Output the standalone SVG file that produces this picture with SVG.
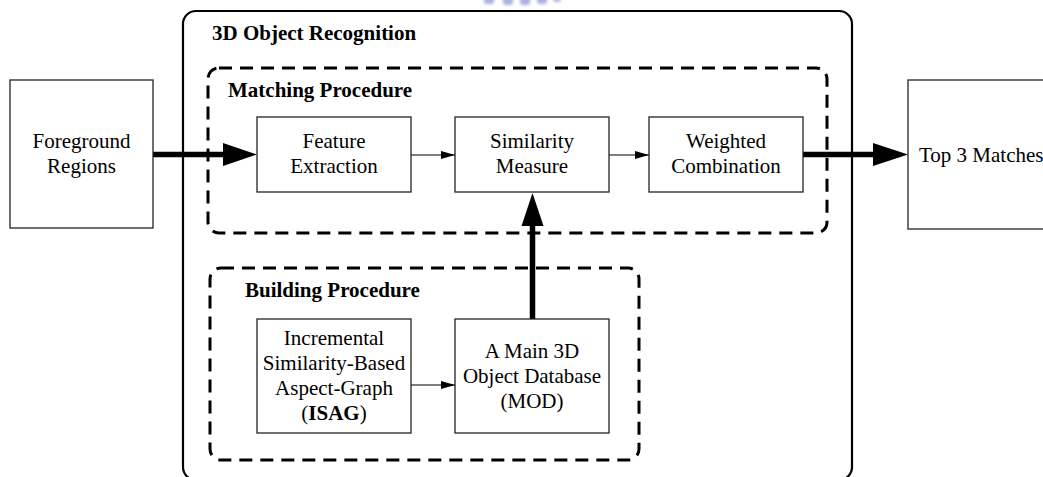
<svg xmlns="http://www.w3.org/2000/svg" width="1043" height="477" viewBox="0 0 1043 477">
  <defs>
    <style>
      .box { fill: #fff; stroke: #222; stroke-width: 1.3; }
      .frame { fill: none; stroke: #000; stroke-width: 2.2; }
      .group { fill: none; stroke: #000; stroke-width: 3; stroke-dasharray: 13 8; }
      .t { font-family: "Liberation Serif", "Times New Roman", serif; font-size: 21px; fill: #000; text-anchor: middle; }
      .title { font-family: "Liberation Serif", "Times New Roman", serif; font-size: 21px; font-weight: bold; fill: #000; }
      .thin { stroke: #000; stroke-width: 1.2; fill: none; }
      .thick { stroke: #000; stroke-width: 5.5; fill: none; }
    </style>
    <marker id="small" markerUnits="userSpaceOnUse" markerWidth="14" markerHeight="10" refX="14" refY="5" orient="auto">
      <path d="M0,1 L14,5 L0,9 Z" fill="#000"/>
    </marker>
    <filter id="soft" x="-20%" y="-50%" width="140%" height="200%">
      <feGaussianBlur stdDeviation="1.5"/>
    </filter>
  </defs>

  <rect width="1043" height="477" fill="#fff"/>

  <!-- faint bluish mark at the top edge -->
  <g fill="#8f97d6" opacity="0.75" filter="url(#soft)">
    <rect x="484" y="-4" width="10" height="8" rx="3"/>
    <rect x="503" y="-4" width="10" height="9" rx="3"/>
    <rect x="520" y="-4" width="10" height="9" rx="3"/>
    <rect x="537" y="-4" width="10" height="8" rx="3"/>
    <rect x="553" y="-4" width="8" height="6" rx="3"/>
  </g>

  <!-- outer frame and procedure groups -->
  <g id="recognition">
    <rect class="frame" x="183" y="11" width="669" height="469" rx="13"/>
    <text class="title" x="212" y="40">3D Object Recognition</text>
  </g>
  <g id="matching">
    <rect class="group" x="208" y="68" width="619" height="165" rx="11"/>
    <text class="title" x="228" y="97">Matching Procedure</text>
  </g>
  <g id="building">
    <rect class="group" x="210" y="268" width="429" height="192" rx="11"/>
    <text class="title" x="245" y="297">Building Procedure</text>
  </g>

  <!-- connectors -->
  <g id="connectors">
    <line class="thick" x1="153" y1="154.5" x2="226" y2="154.5"/>
    <polygon points="223,143 257,154.5 223,166" fill="#000"/>
    <line class="thin" x1="411" y1="155" x2="455" y2="155" marker-end="url(#small)"/>
    <line class="thin" x1="609" y1="155" x2="649" y2="155" marker-end="url(#small)"/>
    <line class="thick" x1="803" y1="154.5" x2="876" y2="154.5"/>
    <polygon points="873,143 908,154.5 873,166" fill="#000"/>
    <line class="thick" x1="532.5" y1="319" x2="532.5" y2="222"/>
    <polygon points="521.5,226 532.5,193 543.5,226" fill="#000"/>
    <line class="thin" x1="411" y1="385" x2="455" y2="385" marker-end="url(#small)"/>
  </g>

  <!-- nodes -->
  <g id="foreground">
    <rect class="box" x="10" y="80" width="143" height="148"/>
    <text class="t" x="81.5" y="148">Foreground</text>
    <text class="t" x="81.5" y="173">Regions</text>
  </g>
  <g id="feature-extraction">
    <rect class="box" x="257" y="117" width="154" height="75"/>
    <text class="t" x="334" y="148">Feature</text>
    <text class="t" x="334" y="173">Extraction</text>
  </g>
  <g id="similarity-measure">
    <rect class="box" x="455" y="117" width="154" height="75"/>
    <text class="t" x="532" y="148">Similarity</text>
    <text class="t" x="532" y="173">Measure</text>
  </g>
  <g id="weighted-combination">
    <rect class="box" x="649" y="117" width="154" height="75"/>
    <text class="t" x="726" y="148">Weighted</text>
    <text class="t" x="726" y="173">Combination</text>
  </g>
  <g id="top-matches">
    <rect class="box" x="908" y="80" width="150" height="149"/>
    <text class="t" x="919" y="162" style="text-anchor:start">Top 3 Matches</text>
  </g>
  <g id="isag">
    <rect class="box" x="257" y="319" width="154" height="114"/>
    <text class="t" x="334" y="345">Incremental</text>
    <text class="t" x="334" y="370">Similarity-Based</text>
    <text class="t" x="334" y="395">Aspect-Graph</text>
    <text class="t" x="334" y="420">(<tspan font-weight="bold">ISAG</tspan>)</text>
  </g>
  <g id="mod">
    <rect class="box" x="455" y="319" width="154" height="114"/>
    <text class="t" x="532" y="358">A Main 3D</text>
    <text class="t" x="532" y="383">Object Database</text>
    <text class="t" x="532" y="408">(MOD)</text>
  </g>
</svg>
